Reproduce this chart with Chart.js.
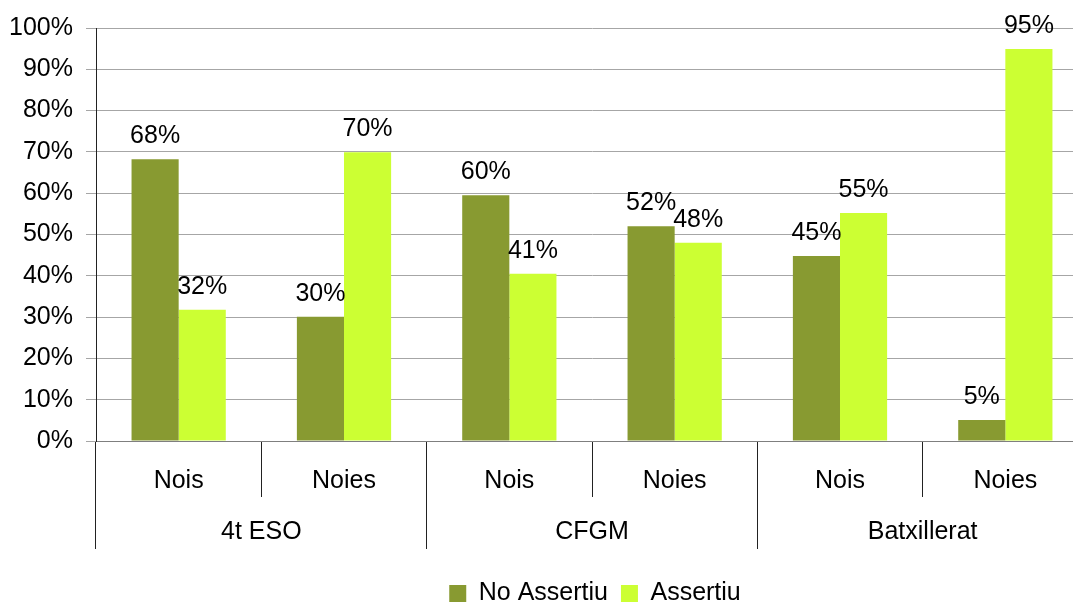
<!DOCTYPE html>
<html><head><meta charset="utf-8">
<script src="https://cdn.jsdelivr.net/npm/chart.js@4/dist/chart.umd.min.js"></script>
<style>html,body{margin:0;padding:0;overflow:hidden;background:#fff;width:1073px;height:603px}canvas{display:block}</style>
</head><body>
<canvas id="c" width="1088" height="616"></canvas>
<script>
const subCategories = ['Nois', 'Noies', 'Nois', 'Noies', 'Nois', 'Noies'];
const groupLabels = ['4t ESO', 'CFGM', 'Batxillerat'];
const seriesNames = ['No Assertiu', 'Assertiu'];
const noAssertiu = [68.2, 30.1, 59.5, 52.0, 44.8, 5.1];
const assertiu = [31.8, 69.9, 40.5, 48.0, 55.2, 94.9];
const yMin = 0, yMax = 100, yStep = 10;

const FONT = "'Liberation Sans', Arial, sans-serif";
const font25 = {family: FONT, size: 25};

const valueLabels = {
  id: 'valueLabels',
  afterDatasetsDraw(chart) {
    const ctx = chart.ctx;
    ctx.save();
    ctx.font = "25px " + FONT;
    ctx.fillStyle = '#000';
    ctx.textAlign = 'center';
    ctx.textBaseline = 'alphabetic';
    chart.data.datasets.forEach((ds, di) => {
      chart.getDatasetMeta(di).data.forEach((el, i) => {
        ctx.fillText(Math.round(ds.data[i]) + '%', el.x, el.y - 16);
      });
    });
    ctx.restore();
  }
};

const legendCenter = {
  id: 'legendCenter',
  afterLayout(chart) {
    const l = chart.legend;
    if (l) { l.left = chart.chartArea.left + 6; l.right = chart.chartArea.right; }
  }
};

new Chart(document.getElementById('c'), {
  type: 'bar',
  data: {
    labels: subCategories,
    datasets: [
      {label: seriesNames[0], data: noAssertiu, backgroundColor: '#889a31', borderWidth: 0, categoryPercentage: 0.57, barPercentage: 1.0},
      {label: seriesNames[1], data: assertiu, backgroundColor: '#ccff33', borderWidth: 0, categoryPercentage: 0.57, barPercentage: 1.0}
    ]
  },
  options: {
    responsive: false,
    animation: false,
    layout: {padding: {top: 26, left: 0, right: 0, bottom: 0}},
    plugins: {
      legend: {
        position: 'bottom',
        labels: {boxWidth: 17, boxHeight: 17, padding: 13, color: '#000', font: font25}
      },
      tooltip: {enabled: false}
    },
    scales: {
      x: {
        type: 'category',
        weight: 0,
        offset: true,
        grid: {offset: true, drawOnChartArea: false, drawTicks: true, tickLength: 56, color: '#222', lineWidth: 1},
        border: {display: true, color: '#7f7f7f', width: 1},
        ticks: {color: '#000', font: font25, padding: -31, maxRotation: 0, autoSkip: false},
        afterFit(s) { s.height = 56; }
      },
      x2: {
        type: 'category',
        position: 'bottom',
        weight: 1,
        labels: groupLabels,
        offset: true,
        grid: {offset: true, drawOnChartArea: false, drawTicks: true, tickLength: 52, color: '#222', lineWidth: 1},
        border: {display: false},
        ticks: {color: '#000', font: font25, padding: -32, maxRotation: 0, autoSkip: false},
        afterFit(s) { s.height = 71; }
      },
      y: {
        min: yMin, max: yMax,
        ticks: {stepSize: yStep, color: '#000', font: font25, padding: 13, callback: v => v + '%'},
        grid: {color: '#a6a6a6', lineWidth: 1, tickLength: 10, drawTicks: true},
        border: {display: true, color: '#222', width: 1},
        afterFit(s) { s.width = 96; }
      }
    }
  },
  plugins: [valueLabels, legendCenter]
});
</script>
</body></html>
